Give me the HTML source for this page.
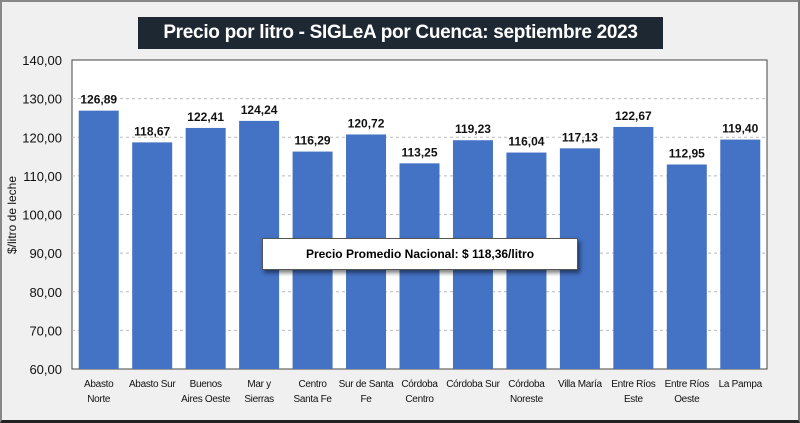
<!DOCTYPE html>
<html><head><meta charset="utf-8"><style>
body{margin:0;width:800px;height:423px;overflow:hidden;background:#fff;font-family:"Liberation Sans",Calibri,sans-serif}
#frame{position:absolute;left:0;top:0;width:796px;height:418px;background:#f0f0f0;border:2px solid #888;border-bottom:3px solid #222;border-right:2px solid #777}
#title{position:absolute;left:138px;top:17px;width:525px;height:32px;background:#1e2833;color:#fff;font-weight:bold;font-size:19px;line-height:32px;text-align:center;white-space:nowrap;letter-spacing:-0.3px}
#note{position:absolute;left:262px;top:238px;width:314px;height:30px;background:#fff;border:1px solid #555;box-shadow:2px 3px 4px rgba(0,0,0,.5);font-weight:bold;font-size:12px;line-height:30px;text-align:center}
</style></head><body>
<div id="frame"></div>
<div id="title">Precio por litro - SIGLeA por Cuenca: septiembre 2023</div>
<svg id="chart" width="800" height="423" style="position:absolute;left:0;top:0"></svg>
<div id="note">Precio Promedio Nacional: $ 118,36/litro</div>
<script>
const categories=[["Abasto","Norte"],["Abasto Sur"],["Buenos","Aires Oeste"],["Mar y","Sierras"],["Centro","Santa Fe"],["Sur de Santa","Fe"],["Córdoba","Centro"],["Córdoba Sur"],["Córdoba","Noreste"],["Villa María"],["Entre Ríos","Este"],["Entre Ríos","Oeste"],["La Pampa"]];
const values=[126.89,118.67,122.41,124.24,116.29,120.72,113.25,119.23,116.04,117.13,122.67,112.95,119.40];
const yTicks=[60,70,80,90,100,110,120,130,140];
const svg=document.getElementById('chart');const NS='http://www.w3.org/2000/svg';
const L=72,R=767,T=60,B=369,ymin=60,ymax=140;
const y=v=>B-(v-ymin)/(ymax-ymin)*(B-T);
const slot=(R-L)/categories.length;const x=i=>L+slot*(i+0.5);
function mk(t,a){const e=document.createElementNS(NS,t);for(const k in a)e.setAttribute(k,a[k]);svg.appendChild(e);return e;}
const fmt=v=>v.toFixed(2).replace('.',',');
let p=mk('rect',{x:L,y:T,width:R-L,height:B-T,fill:'#fff',stroke:'#444','stroke-width':1});


yTicks.forEach(v=>{
 if(v>ymin&&v<ymax){const g=mk('line',{x1:L,x2:R,y1:y(v),y2:y(v),stroke:'#bbb','stroke-dasharray':'3,3'});
 
 }
 const t=mk('text',{x:L-10,y:y(v)+5,'text-anchor':'end','font-size':13,fill:'#111'});t.textContent=fmt(v);
 
 
});
values.forEach((v,i)=>{
 const b=mk('rect',{x:x(i)-20,y:y(v),width:40,height:B-y(v),fill:'#4472c4'});
 
 
 const t=mk('text',{x:x(i),y:y(v)-7,'text-anchor':'middle','font-size':12,'font-weight':'bold',fill:'#111'});t.textContent=fmt(v);
 
 
 categories[i].forEach((ln,j)=>{const c=mk('text',{x:x(i),y:387+j*15,'text-anchor':'middle','font-size':10,'letter-spacing':'-0.3',fill:'#111'});c.textContent=ln;
 
 });
});
const yt=mk('text',{x:16,y:215,'text-anchor':'middle','font-size':12,fill:'#111',transform:'rotate(-90 16 215)'});yt.textContent='$/litro de leche';


</script>
</body></html>
